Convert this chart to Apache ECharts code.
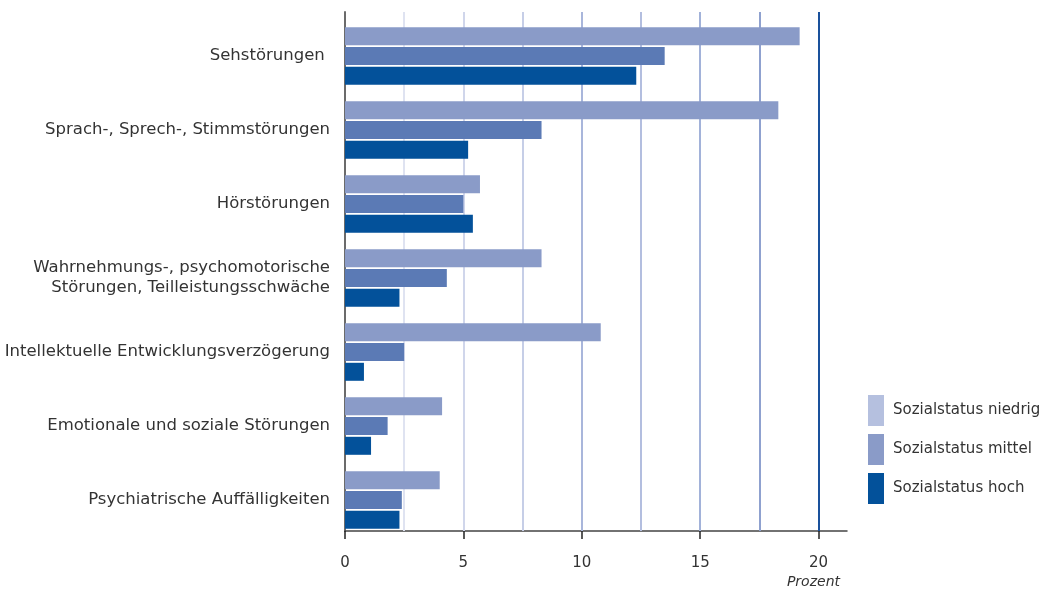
<!DOCTYPE html>
<html>
<head>
<meta charset="utf-8">
<script src="https://cdn.jsdelivr.net/npm/echarts@6/dist/echarts.min.js"></script>
<style>
html,body{margin:0;padding:0;background:#fff;}
#chart{width:1054px;height:589px;}
</style>
</head>
<body>
<div id="chart"></div>
<script>
const categories = [
  'Sehstörungen ',
  'Sprach-, Sprech-, Stimmstörungen',
  'Hörstörungen',
  'Wahrnehmungs-, psychomotorische\nStörungen, Teilleistungsschwäche',
  'Intellektuelle Entwicklungsverzögerung',
  'Emotionale und soziale Störungen',
  'Psychiatrische Auffälligkeiten'
];
const seriesNames = ['Sozialstatus niedrig', 'Sozialstatus mittel', 'Sozialstatus hoch'];
const niedrig = [19.2, 18.3, 5.7, 8.3, 10.8, 4.1, 4.0];
const mittel  = [13.5, 8.3, 5.0, 4.3, 2.5, 1.8, 2.4];
const hoch    = [12.3, 5.2, 5.4, 2.3, 0.8, 1.1, 2.3];
const xTicks = [0, 5, 10, 15, 20];
const gridValues = [2.5, 5, 7.5, 10, 12.5, 15, 17.5, 20];
const gridColors = ['#dfe3f1', '#d0d6eb', '#c6cee7', '#a9b6db', '#b3bedf', '#a2b2d9', '#8fa1cf', '#1a519c'];
const barColors = ['#8a9bc8', '#5b7ab5', '#03519a'];
const legendColors = ['#b5c0df', '#8a9bc8', '#03519a'];

const FONT = 'DejaVu Sans';
const X_MAX = 21.2;
const chart = echarts.init(document.getElementById('chart'));
const values = [niedrig, mittel, hoch];

const series = seriesNames.map((name, i) => ({
  name: name,
  type: 'bar',
  xAxisIndex: 0,
  yAxisIndex: 0,
  data: values[i],
  barWidth: 18,
  barGap: '10%',
  itemStyle: { color: barColors[i] },
  silent: true,
  z: 3
}));

// gridlines live in a second grid that shares the x scale
series.push({
  name: 'gridlines',
  type: 'scatter',
  xAxisIndex: 1,
  yAxisIndex: 1,
  data: [],
  silent: true,
  z: 1,
  markLine: {
    silent: true,
    symbol: 'none',
    z: 1,
    animation: false,
    label: { show: false },
    data: gridValues.map((v, k) => ({
      xAxis: v,
      lineStyle: { color: gridColors[k], width: 2, type: 'solid' }
    }))
  }
});

chart.setOption({
  animation: false,
  textStyle: { fontFamily: FONT },
  title: {
    text: 'Prozent',
    right: 214,
    top: 575,
    padding: 0,
    textStyle: { fontFamily: FONT, fontStyle: 'italic', fontWeight: 'normal', fontSize: 14, color: '#333' }
  },
  legend: {
    orient: 'vertical',
    left: 868,
    top: 395,
    padding: 0,
    itemWidth: 16,
    itemHeight: 31,
    itemGap: 8,
    icon: 'rect',
    textStyle: { fontFamily: FONT, fontSize: 15, color: '#333', padding: [0, 0, 0, 4] },
    data: seriesNames.map((n, i) => ({ name: n, itemStyle: { color: legendColors[i] } })),
    selectedMode: false
  },
  grid: [
    { left: 345, top: 19, width: 502, height: 518, containLabel: false },
    { left: 345, top: 12, width: 502, height: 519, containLabel: false }
  ],
  xAxis: [
    { type: 'value', gridIndex: 0, min: 0, max: X_MAX, show: false },
    {
      type: 'value',
      gridIndex: 1,
      min: 0,
      max: X_MAX,
      interval: 5,
      axisLine: { show: true, lineStyle: { color: '#444', width: 1.5 } },
      axisTick: { show: true, length: 8, customValues: xTicks, lineStyle: { color: '#222', width: 1.5 } },
      axisLabel: { customValues: xTicks, margin: 25, fontSize: 15, color: '#333', fontFamily: FONT },
      splitLine: { show: false }
    }
  ],
  yAxis: [
    {
      type: 'category',
      gridIndex: 0,
      data: categories,
      inverse: true,
      axisLine: { show: false },
      axisTick: { show: false },
      axisLabel: { fontSize: 16.5, color: '#333', margin: 15, lineHeight: 20, fontFamily: FONT },
      splitLine: { show: false }
    },
    {
      type: 'value',
      gridIndex: 1,
      min: 0,
      max: 1,
      axisLine: { show: true, lineStyle: { color: '#6b6b6b', width: 2 } },
      axisTick: { show: false },
      axisLabel: { show: false },
      splitLine: { show: false }
    }
  ],
  series: series
});
</script>
</body>
</html>
